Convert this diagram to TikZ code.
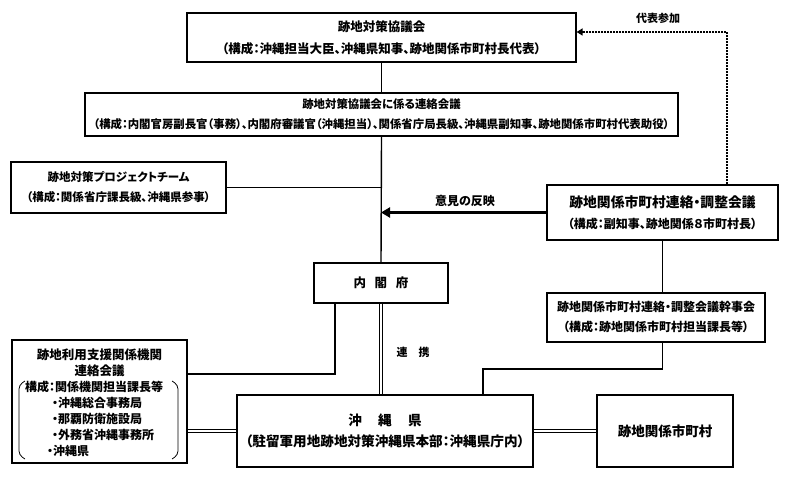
\documentclass[tikz,border=0pt]{standalone}
\usepackage{fontspec}
\setmainfont{Noto Sans CJK JP}[RawFeature=+palt]
\usetikzlibrary{arrows.meta}
\newcommand\jf[2]{\fontsize{#1bp}{#2bp}\selectfont\bfseries}
\tikzset{
  box/.style={draw, line width=1.2bp, align=center, inner sep=0pt},
  link/.style={line width=1.4bp},
  twin/.style={double, double distance=2bp, line width=1bp},
  label/.style={inner sep=0pt, font=\jf{11.5}{14}}
}

\begin{document}
\begin{tikzpicture}[x=1bp,y=-1bp]
\useasboundingbox (0,0) rectangle (789,483);

\node[box, minimum width=389bp, minimum height=49bp, font=\jf{12.5}{22}] (kyogikai) at (381.5,37.5)
  {跡地対策協議会\\（構成：沖縄担当大臣、沖縄県知事、跡地関係市町村長代表）};
\node[box, minimum width=593bp, minimum height=43bp, font=\jf{11.4}{20}] (renraku) at (381.5,114.5)
  {跡地対策協議会に係る連絡会議\\（構成：内閣官房副長官（事務）、内閣府審議官（沖縄担当）、関係省庁局長級、沖縄県副知事、跡地関係市町村代表助役）};
\node[box, minimum width=215bp, minimum height=51bp, font=\jf{11.5}{20}] (pt) at (118.5,187.5)
  {跡地対策プロジェクトチーム\\（構成：関係省庁課長級、沖縄県参事）};
\node[box, minimum width=231bp, minimum height=55bp, font=\jf{13.8}{21}] (chosei) at (662.5,212.5)
  {跡地関係市町村連絡・調整会議\\\jf{12}{21}（構成：副知事、跡地関係８市町村長）};
\node[box, minimum width=134bp, minimum height=40bp, font=\jf{12.5}{14}] (naikaku) at (381,283)
  {内\hspace{0.7em}閣\hspace{0.7em}府};
\node[box, minimum width=218bp, minimum height=49bp, font=\jf{12}{20}] (kanji) at (656,317.5)
  {跡地関係市町村連絡・調整会議幹事会\\（構成：跡地関係市町村担当課長等）};
\node[box, minimum width=175bp, minimum height=123bp] (shien) at (99.5,401.5) {};
\node[box, minimum width=296bp, minimum height=72bp, font=\jf{13.6}{21}] (okinawa) at (385,431)
  {沖\hspace{1.2em}縄\hspace{1.2em}県\\（駐留軍用地跡地対策沖縄県本部：沖縄県庁内）};
\node[box, minimum width=136bp, minimum height=72bp, font=\jf{13.5}{15}] (shichoson) at (665,431)
  {跡地関係市町村};

% support meeting contents
\node[label, font=\jf{12.5}{14}] (shien1) at (99.5,355) {跡地利用支援関係機関};
\node[label, font=\jf{12.5}{14}] (shien2) at (99.5,371) {連絡会議};
\node[label, anchor=west, font=\jf{12}{14}] (kosei) at (25,387) {構成：関係機関担当課長等};
\node[label, anchor=west, font=\jf{12}{14}] (item1) at (52,403) {・沖縄総合事務局};
\node[label, anchor=west, font=\jf{12}{14}] (item2) at (52,419) {・那覇防衛施設局};
\node[label, anchor=west, font=\jf{12}{14}] (item3) at (52,435) {・外務省沖縄事務所};
\node[label, anchor=west, font=\jf{12}{14}] (item4) at (47,451) {・沖縄県};
\draw[line width=0.8bp, rounded corners=4bp] (25,381) -- (19,385) -- (19,455) -- (25,459);
\draw[line width=0.8bp, rounded corners=4bp] (172,381) -- (178,385) -- (178,455) -- (172,459);

% labels
\node[label, font=\jf{12}{14}] (hanei) at (465,201) {意見の反映};
\node[label, font=\jf{11}{14}] (daihyo) at (658,18) {代表参加};
\node[label, font=\jf{11}{14}] (renkei) at (413,352) {連\hspace{1em}携};

\coordinate (dp) at (727,32);
\coordinate (k1) at (662.5,369);
\coordinate (k2) at (483,369);
\coordinate (n1) at (335,374);

\draw[link] (kyogikai.south) -- (renraku.north);
\draw[link] (renraku.south) -- (naikaku.north);
\draw[link] (pt.east) -- (pt.east -| naikaku.north);
\draw[line width=3.5bp, -{Triangle[length=9bp,width=10bp]}] (chosei.west) -- (chosei.west -| naikaku.north);
\draw[line width=2.5bp, dash pattern=on 2bp off 1bp, -{Triangle[length=6bp,width=7bp]}]
  (chosei.north -| dp) -- (dp) -- (dp -| kyogikai.east);
\draw[link] (chosei.south) -- (chosei.south |- kanji.north);
\draw[link] (kanji.south -| k1) -- (k1) -- (k2) -- (k2 |- okinawa.north);
\draw[link] (naikaku.south -| n1) -- (n1) -- (n1 -| shien.east);
\draw[twin] (naikaku.south) -- (naikaku.south |- okinawa.north);
\draw[twin] (okinawa.west) -- (okinawa.west -| shien.east);
\draw[twin] (okinawa.east) -- (shichoson.west);
\end{tikzpicture}
\end{document}
